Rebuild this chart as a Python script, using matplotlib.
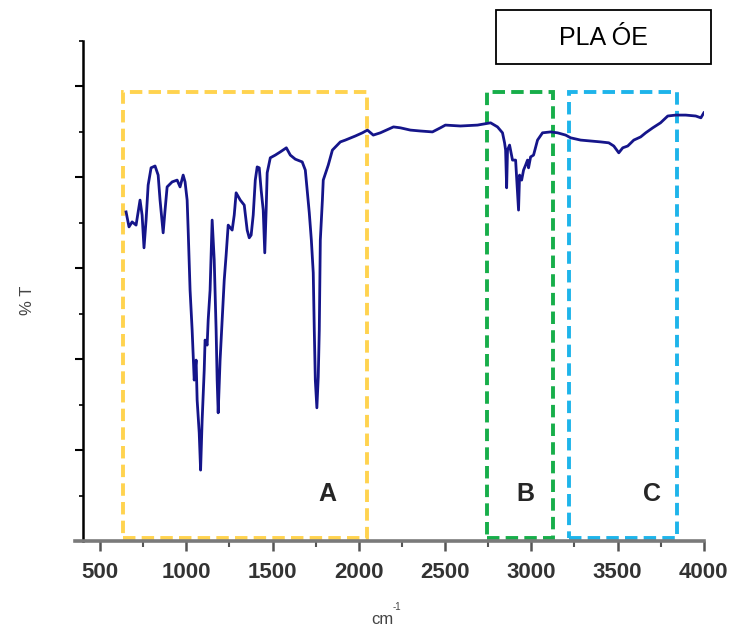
import matplotlib
matplotlib.use("Agg")
import matplotlib.pyplot as plt
from matplotlib.patches import Rectangle
from matplotlib.ticker import MultipleLocator

plt.rcParams['font.family'] = ['Liberation Sans', 'DejaVu Sans']

# FTIR spectrum of PLA OE: wavenumber (cm^-1) and transmittance (%T)
wavenumber = [651, 668, 686, 709, 732, 744, 755, 767, 779, 796, 819, 837, 848, 866, 877,
              889, 918, 947, 964, 982, 993, 1005, 1011, 1022, 1034, 1046, 1057, 1063, 1075,
              1083, 1092, 1104, 1109, 1121, 1127, 1138, 1150, 1162, 1173, 1179, 1185, 1196,
              1208, 1220, 1231, 1243, 1266, 1278, 1289, 1313, 1336, 1353, 1365, 1376, 1388,
              1400, 1411, 1423, 1434, 1446, 1455, 1463, 1469, 1487, 1516, 1545, 1580, 1603,
              1632, 1672, 1690, 1713, 1725, 1736, 1742, 1748, 1757, 1765, 1771, 1777, 1789,
              1794, 1823, 1847, 1893, 1922, 1980, 2021, 2050, 2084, 2125, 2201, 2241, 2299,
              2357, 2427, 2473, 2502, 2589, 2688, 2764, 2804, 2833, 2845, 2851, 2857, 2862,
              2874, 2891, 2909, 2926, 2932, 2944, 2955, 2967, 2978, 2984, 2996, 3013, 3036,
              3065, 3112, 3152, 3199, 3228, 3286, 3344, 3402, 3449, 3478, 3507, 3530, 3559,
              3594, 3634, 3663, 3704, 3749, 3791, 3837, 3895, 3953, 3983, 4000]
transmittance = [72.4, 69.1, 70.2, 69.5, 75.0, 71.7, 64.5, 70.6, 78.3, 82.1, 82.5, 80.5, 75.0,
                 67.8, 72.8, 77.9, 79.0, 79.4, 77.9, 80.5, 79.0, 75.0, 68.4, 55.2, 46.4, 35.4,
                 39.8, 31.0, 23.8, 15.6, 26.6, 37.6, 44.2, 43.1, 48.6, 55.2, 70.6, 61.8, 46.4,
                 35.4, 28.2, 39.8, 48.6, 57.4, 62.9, 69.5, 68.4, 71.7, 76.6, 75.0, 73.9, 68.4,
                 66.7, 67.3, 71.7, 79.4, 82.3, 82.1, 77.2, 72.8, 63.4, 72.8, 81.0, 84.3, 84.9,
                 85.6, 86.5, 84.9, 84.0, 83.4, 81.6, 72.2, 66.2, 59.0, 46.4, 35.4, 29.3, 36.1,
                 46.4, 66.2, 75.0, 79.4, 82.7, 86.0, 87.8, 88.2, 89.1, 89.8, 90.4, 89.3, 89.8,
                 91.1, 90.9, 90.4, 90.2, 90.0, 90.9, 91.5, 91.3, 91.5, 92.0, 91.1, 89.8, 87.6,
                 86.0, 77.7, 86.0, 87.1, 83.8, 83.8, 72.8, 80.5, 79.4, 81.6, 82.7, 83.8, 82.1,
                 84.5, 84.9, 88.2, 89.8, 90.0, 89.8, 89.3, 88.7, 88.2, 88.0, 87.8, 87.6, 86.9,
                 85.4, 86.5, 86.9, 88.2, 88.9, 89.8, 90.9, 92.0, 93.5, 93.7, 93.7, 93.5, 93.1,
                 94.2]

# Highlighted regions (cm^-1)
region_labels = ['A', 'B', 'C']
region_start = [633, 2746, 3216]
region_end = [2050, 3123, 3843]
region_label_x = [1817, 2967, 3698]
region_colors = ['#FFD34F', '#17AE4A', '#1EB4EA']
region_bottom = 0.7
region_top = 98.8
region_label_y = 10.3

xticks = [500, 1000, 1500, 2000, 2500, 3000, 3500, 4000]

fig = plt.figure(figsize=(7.36, 6.33), dpi=100)
ax = fig.add_axes([75 / 736, (633 - 541) / 633, (704 - 75) / 736, (541 - 41) / 633])

ax.plot(wavenumber, transmittance, color='#15158A', linewidth=2.0, zorder=3)

for lab, x0, x1, lx, c in zip(region_labels, region_start, region_end, region_label_x,
                              region_colors):
    r = Rectangle((x0, region_bottom), x1 - x0, region_top - region_bottom, fill=False,
                  edgecolor=c, linewidth=2.8, linestyle=(0, (3.2, 1.6)), zorder=2)
    ax.add_patch(r)
    ax.text(lx, region_label_y, lab, fontsize=18, fontweight='bold', color='#262626',
            ha='center', va='center')

ax.set_xlim(355, 4001)
ax.set_ylim(0, 110)

ax.spines['top'].set_visible(False)
ax.spines['right'].set_visible(False)
ax.spines['left'].set_position(('data', 401))
ax.spines['left'].set_color('black')
ax.spines['left'].set_linewidth(1.8)
ax.spines['bottom'].set_color('#7a7a7a')
ax.spines['bottom'].set_linewidth(2.6)

ax.xaxis.set_minor_locator(MultipleLocator(250))
ax.set_xticks(xticks)
ax.set_xticklabels([str(v) for v in xticks])
ax.tick_params(axis='x', which='major', direction='out', length=7, width=1.8, color='#555555',
               labelsize=16, labelcolor='#333333', pad=8)
ax.tick_params(axis='x', which='minor', direction='out', length=4, width=1.5, color='#555555')
for t in ax.get_xticklabels():
    t.set_fontweight('bold')

ax.yaxis.set_major_locator(MultipleLocator(20))
ax.yaxis.set_minor_locator(MultipleLocator(10))
ax.tick_params(axis='y', which='major', direction='out', length=6, width=1.5, color='black',
               labelleft=False)
ax.tick_params(axis='y', which='minor', direction='out', length=3, width=1.2, color='black')

fig.text(27 / 736, 1 - 300 / 633, '% T', rotation=90, ha='center', va='center',
         fontsize=12, color='#444444')
fig.text(382 / 736, 1 - 620 / 633, 'cm', ha='center', va='center',
         fontsize=12, color='#444444')
fig.text(397 / 736, 1 - 607 / 633, '-1', ha='center', va='center',
         fontsize=7, color='#444444')

# Title box
fig.add_artist(Rectangle((496 / 736, 1 - 64 / 633), (711 - 496) / 736, (64 - 10) / 633,
                         transform=fig.transFigure, facecolor='white', edgecolor='black',
                         linewidth=1.3))
fig.text(603 / 736, 1 - 38 / 633, 'PLA ÓE', ha='center', va='center', fontsize=18,
         color='black')

fig.savefig('out.png', dpi=100, facecolor='white')
